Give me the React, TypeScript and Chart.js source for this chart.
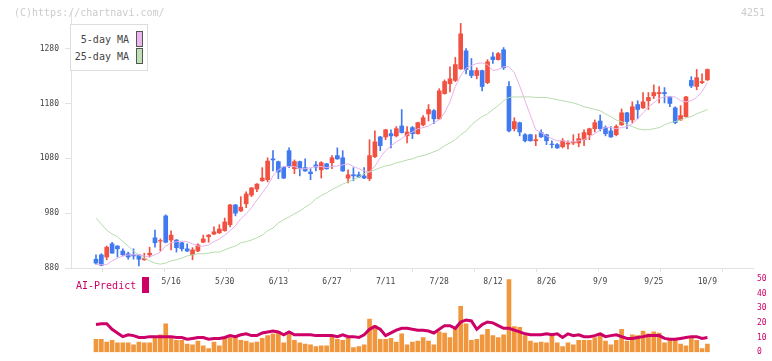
import React, { useEffect, useRef } from 'react';
import { Chart, registerables } from 'chart.js';

Chart.register(...registerables);

// ---- data ----
const OPEN = [
  896, 904, 900, 924, 920, 911, 906, 904, 904, 895, 904, 935, 929, 975, 931, 931, 926, 915, 904, 911,
  927, 937, 942, 944, 948, 959, 995, 984, 997, 1013, 1024, 1039, 1041, 1079, 1074, 1064, 1094, 1061, 1074, 1063,
  1055, 1068, 1059, 1070, 1072, 1085, 1081, 1044, 1050, 1050, 1048, 1043, 1083, 1119, 1119, 1125, 1121, 1139, 1121, 1136,
  1125, 1141, 1161, 1167, 1152, 1198, 1216, 1222, 1243, 1276, 1240, 1231, 1240, 1218, 1265, 1260, 1278, 1211, 1134, 1145,
  1123, 1123, 1112, 1127, 1123, 1106, 1105, 1101, 1106, 1108, 1108, 1114, 1123, 1134, 1148, 1136, 1130, 1123, 1141, 1163,
  1150, 1178, 1172, 1185, 1194, 1198, 1200, 1192, 1172, 1150, 1156, 1222, 1211, 1218, 1223,
];
const HIGH = [
  904, 906, 920, 927, 921, 915, 909, 915, 905, 907, 918, 949, 933, 977, 948, 932, 927, 924, 917, 924,
  940, 941, 955, 959, 971, 996, 996, 1010, 1019, 1027, 1034, 1063, 1081, 1094, 1075, 1065, 1099, 1077, 1075, 1079,
  1061, 1074, 1074, 1071, 1085, 1099, 1094, 1059, 1063, 1055, 1063, 1114, 1130, 1120, 1133, 1132, 1138, 1169, 1138, 1138,
  1146, 1158, 1178, 1169, 1207, 1223, 1247, 1264, 1326, 1280, 1262, 1245, 1241, 1260, 1273, 1273, 1282, 1220, 1154, 1146,
  1125, 1124, 1123, 1132, 1124, 1112, 1107, 1116, 1112, 1123, 1125, 1132, 1135, 1150, 1159, 1139, 1138, 1141, 1170, 1164,
  1183, 1185, 1200, 1200, 1214, 1211, 1209, 1193, 1174, 1176, 1193, 1229, 1242, 1234, 1243,
];
const LOW = [
  887, 884, 895, 907, 900, 902, 896, 896, 884, 894, 900, 918, 911, 926, 913, 909, 911, 910, 895, 910,
  926, 927, 941, 943, 947, 955, 975, 983, 990, 1010, 1019, 1038, 1037, 1057, 1043, 1043, 1063, 1052, 1048, 1056,
  1041, 1057, 1044, 1060, 1061, 1078, 1056, 1035, 1039, 1045, 1043, 1039, 1081, 1094, 1114, 1099, 1119, 1126, 1108, 1116,
  1124, 1139, 1148, 1143, 1151, 1197, 1201, 1220, 1242, 1234, 1227, 1225, 1203, 1216, 1253, 1259, 1242, 1128, 1130, 1121,
  1110, 1111, 1103, 1118, 1105, 1099, 1098, 1099, 1097, 1105, 1101, 1103, 1114, 1128, 1130, 1121, 1118, 1121, 1140, 1134,
  1145, 1152, 1171, 1169, 1189, 1181, 1181, 1174, 1143, 1149, 1155, 1209, 1205, 1216, 1222,
];
const CLOSE = [
  889, 885, 918, 907, 915, 904, 900, 902, 896, 897, 907, 926, 930, 927, 940, 917, 915, 911, 913, 922,
  933, 940, 946, 951, 964, 995, 980, 991, 1015, 1026, 1033, 1044, 1075, 1077, 1055, 1044, 1066, 1074, 1061, 1057,
  1052, 1064, 1072, 1061, 1081, 1079, 1057, 1050, 1048, 1046, 1044, 1085, 1110, 1103, 1132, 1121, 1134, 1127, 1128, 1125,
  1145, 1154, 1169, 1152, 1203, 1220, 1225, 1251, 1307, 1242, 1231, 1240, 1211, 1256, 1260, 1271, 1245, 1130, 1147, 1128,
  1112, 1112, 1114, 1119, 1112, 1105, 1099, 1112, 1108, 1110, 1116, 1127, 1134, 1145, 1134, 1125, 1119, 1138, 1163, 1147,
  1174, 1169, 1183, 1191, 1200, 1200, 1198, 1180, 1145, 1158, 1192, 1212, 1227, 1220, 1242,
];
const MA5 = [
  887, 886, 886, 893, 898, 902, 904, 904, 904, 902, 900, 904, 909, 920, 926, 928, 929, 928, 924, 920,
  920, 922, 928, 933, 940, 948, 957, 970, 979, 990, 1004, 1017, 1030, 1048, 1059, 1065, 1065, 1065, 1061, 1061,
  1063, 1065, 1065, 1063, 1065, 1066, 1068, 1070, 1065, 1061, 1057, 1055, 1066, 1081, 1094, 1103, 1110, 1116, 1123, 1128,
  1134, 1136, 1139, 1145, 1150, 1163, 1183, 1211, 1231, 1244, 1249, 1253, 1254, 1251, 1240, 1242, 1247, 1247, 1236, 1212,
  1185, 1158, 1132, 1127, 1121, 1116, 1112, 1112, 1110, 1110, 1112, 1114, 1119, 1125, 1132, 1136, 1136, 1134, 1136, 1138,
  1143, 1152, 1163, 1174, 1181, 1189, 1192, 1192, 1192, 1185, 1183, 1185, 1191, 1202, 1218,
];
const MA25 = [
  971, 960, 949, 942, 937, 928, 920, 911, 904, 898, 893, 889, 887, 889, 893, 895, 898, 902, 904, 906,
  906, 907, 909, 909, 913, 917, 920, 926, 928, 931, 935, 940, 948, 953, 962, 968, 973, 979, 984, 991,
  997, 1006, 1012, 1017, 1023, 1028, 1033, 1037, 1041, 1046, 1052, 1055, 1059, 1063, 1066, 1068, 1072, 1074, 1077, 1079,
  1083, 1085, 1088, 1092, 1096, 1103, 1108, 1114, 1123, 1130, 1141, 1149, 1156, 1161, 1169, 1176, 1185, 1191, 1192, 1192,
  1192, 1192, 1191, 1191, 1191, 1189, 1187, 1185, 1183, 1181, 1178, 1174, 1172, 1169, 1167, 1161, 1156, 1150, 1147, 1141,
  1138, 1134, 1132, 1132, 1134, 1136, 1141, 1145, 1147, 1150, 1154, 1156, 1161, 1165, 1169,
];
const VOLUME = [
  8.8, 8.7, 6.9, 8.1, 6.3, 6.3, 6.3, 5, 6.9, 6.3, 6.3, 10, 11.9, 19.4, 10, 8.1, 8.1, 5.6, 5, 7.5,
  4.4, 2.5, 6.9, 4.4, 9.4, 10, 10.6, 8.1, 7.5, 6.3, 6.9, 9.4, 11.3, 12.5, 13.8, 6.3, 12.5, 8.1, 6.3, 5.6,
  5, 3.8, 4.4, 4.4, 10.6, 8.7, 8.1, 9.4, 3.1, 3.8, 5, 22.5, 18.1, 8.7, 8.7, 9.4, 6.9, 12.5, 5, 6.9,
  7.5, 10, 7.5, 5, 13.8, 13.1, 10, 16.9, 31.3, 19.4, 8.1, 8.7, 11.9, 15.6, 11.3, 10, 11.9, 49.4, 17.5, 16.9,
  11.3, 7.5, 6.3, 6.9, 6.3, 12.5, 6.3, 3.8, 6.3, 5, 8.1, 8.1, 8.1, 10, 13.1, 7.5, 5, 8.1, 15.6, 7.5,
  11.9, 11.3, 14.4, 12.5, 13.8, 13.1, 6.3, 8.1, 8.1, 5.6, 4.4, 10, 8.1, 2.5, 5.6,
];
const AI_PREDICT = [
  18.8, 19.4, 19.4, 15.6, 13.1, 10.6, 11.9, 11.3, 10, 10, 10.6, 10.6, 10.6, 10.6, 10.6, 10, 10, 8.8, 9.4, 10,
  10, 8.8, 9.4, 9.4, 10, 11.3, 10.6, 11.9, 12.5, 11.3, 11.3, 13.1, 13.8, 14.4, 13.8, 11.9, 13.8, 11.9, 11.9, 11.9,
  11.9, 11.3, 11.3, 11.3, 11.3, 10.6, 11.9, 10.6, 10.6, 10, 11.9, 15.6, 17.5, 15.6, 11.3, 13.1, 15, 16.3, 16.3, 15.6,
  15, 15, 14.4, 13.1, 15.6, 18.1, 18.1, 16.3, 20.6, 21.9, 21.3, 15.6, 18.8, 20.6, 20, 18.1, 16.3, 16.3, 15, 13.8,
  12.5, 11.9, 11.9, 11.9, 12.5, 11.9, 12.5, 10, 12.5, 11.3, 11.9, 10.6, 10.6, 11.3, 12.5, 10.6, 11.3, 11.9, 10.6, 9.4,
  9.4, 10, 10.6, 11.3, 11.3, 11.3, 9.4, 8.8, 8.8, 9.4, 10, 10.6, 10.6, 9.4, 10,
];
const TICK_POS = [14, 24, 34, 44, 54, 64, 74, 84, 94, 104, 114];
const TICK_LABELS = ['5/16', '5/30', '6/13', '6/27', '7/11', '7/28', '8/12', '8/26', '9/9', '9/25', '10/9'];
const PRICE_TICKS = [880, 980, 1080, 1180, 1280];
const VOLUME_TICKS = [0, 10, 20, 30, 40, 50];
const GRID_MARKS = [0, 1, 2, 3, 4, 5, 6, 7, 8, 9, 10, 11];

// ---- styles ----
const MONO = "'DejaVu Sans Mono', monospace";
const RED = '#f25040';
const BLUE = '#4079f0';
const AXIS = '#e2e2e2';
const CRIMSON = '#cc0066';
const X_MIN = -4.66;
const X_MAX = 122.5;

export default function App() {
  const priceRef = useRef<HTMLCanvasElement>(null);
  const volRef = useRef<HTMLCanvasElement>(null);

  useEffect(() => {
    const colors = OPEN.map((o, i) => (CLOSE[i] >= o ? RED : BLUE));
    const price = new Chart(priceRef.current!, {
      type: 'bar',
      data: {
        datasets: [
          {
            type: 'line',
            data: MA5.map((v, i) => ({ x: i, y: v })),
            borderColor: '#e8b2e8',
            borderWidth: 1,
            pointRadius: 0,
            xAxisID: 'x',
            yAxisID: 'y',
            order: 0,
          } as any,
          {
            type: 'line',
            data: MA25.map((v, i) => ({ x: i, y: v })),
            borderColor: '#b6dcab',
            borderWidth: 1,
            pointRadius: 0,
            xAxisID: 'x',
            yAxisID: 'y',
            order: 0,
          } as any,
          {
            type: 'bar',
            data: HIGH.map((h, i) => ({ x: i, y: [LOW[i], h] })),
            backgroundColor: colors,
            barThickness: 1,
            grouped: false,
            xAxisID: 'x',
            yAxisID: 'y',
            order: 2,
          } as any,
          {
            type: 'bar',
            data: OPEN.map((o, i) => ({ x: i, y: [o, CLOSE[i]] })),
            backgroundColor: colors,
            barThickness: 4,
            grouped: false,
            xAxisID: 'x',
            yAxisID: 'y',
            order: 1,
          } as any,
        ],
      },
      options: {
        responsive: false,
        animation: false,
        events: [],
        layout: { padding: { left: 0, right: 19, top: 13, bottom: 0 } },
        plugins: { legend: { display: false }, tooltip: { enabled: false } },
        scales: {
          x: {
            type: 'linear',
            axis: 'x',
            position: 'bottom',
            min: X_MIN,
            max: X_MAX,
            offset: false,
            weight: 1,
            afterBuildTicks: (s: any) => {
              s.ticks = TICK_POS.map((v) => ({ value: v }));
            },
            afterFit: (s: any) => {
              s.height = 28;
            },
            ticks: {
              autoSkip: false,
              maxRotation: 0,
              padding: 5,
              color: '#444',
              font: { family: MONO, size: 8 },
              callback: (v: any) => {
                const k = TICK_POS.indexOf(Number(v));
                return k >= 0 ? TICK_LABELS[k] : '';
              },
            },
            grid: { display: false, drawTicks: false },
            border: { display: false },
          },
          xt: {
            type: 'linear',
            axis: 'x',
            position: 'bottom',
            min: 0,
            max: 11,
            offset: false,
            weight: 0,
            afterBuildTicks: (s: any) => {
              s.ticks = GRID_MARKS.map((v) => ({ value: v }));
            },
            afterFit: (s: any) => {
              s.height = 4;
            },
            ticks: { display: false },
            grid: { drawOnChartArea: false, drawTicks: true, tickLength: 4, color: AXIS },
            border: { display: true, color: AXIS },
          },
          y: {
            type: 'linear',
            position: 'left',
            min: 880,
            max: 1345,
            afterBuildTicks: (s: any) => {
              s.ticks = PRICE_TICKS.map((v) => ({ value: v }));
            },
            afterFit: (s: any) => {
              s.width = 71;
            },
            ticks: {
              padding: 6,
              color: '#444',
              font: { family: MONO, size: 8 },
              callback: (v: any) => String(v),
            },
            grid: { drawOnChartArea: false, tickLength: 6, color: AXIS },
            border: { color: AXIS },
          },
        },
      } as any,
    });

    const vol = new Chart(volRef.current!, {
      type: 'bar',
      data: {
        datasets: [
          {
            type: 'line',
            data: AI_PREDICT.map((v, i) => ({ x: i, y: v })),
            borderColor: CRIMSON,
            borderWidth: 3,
            pointRadius: 0,
            order: 0,
          } as any,
          {
            type: 'bar',
            data: VOLUME.map((v, i) => ({ x: i, y: v })),
            backgroundColor: '#f0963c',
            barThickness: 4,
            order: 1,
          } as any,
        ],
      },
      options: {
        responsive: false,
        animation: false,
        events: [],
        layout: { padding: { left: 71, right: 0, top: 8, bottom: 3 } },
        plugins: { legend: { display: false }, tooltip: { enabled: false } },
        scales: {
          x: { type: 'linear', min: X_MIN, max: X_MAX, offset: false, display: false },
          y: {
            type: 'linear',
            position: 'right',
            min: 0,
            max: 50,
            afterBuildTicks: (s: any) => {
              s.ticks = VOLUME_TICKS.map((v) => ({ value: v }));
            },
            afterFit: (s: any) => {
              s.width = 19;
            },
            ticks: { padding: 4, color: CRIMSON, font: { family: MONO, size: 8 }, callback: (v: any) => String(v) },
            grid: { display: false, drawTicks: false },
            border: { display: false },
          },
        },
      } as any,
    });

    return () => {
      price.destroy();
      vol.destroy();
    };
  }, []);

  const text = { position: 'absolute' as const, fontFamily: MONO, fontSize: 10, lineHeight: '12px', whiteSpace: 'nowrap' as const };

  return (
    <div style={{ position: 'absolute', left: 0, top: 0, width: 772, height: 361, background: '#fff', overflow: 'hidden' }}>
      <canvas ref={priceRef} width={772} height={300} style={{ position: 'absolute', left: 0, top: 0 }} />
      <canvas ref={volRef} width={772} height={91} style={{ position: 'absolute', left: 0, top: 270 }} />
      <div style={{ ...text, left: 14, top: 7, color: '#cccccc' }}>(C)https://chartnavi.com/</div>
      <div style={{ ...text, left: 741, top: 7, color: '#cccccc' }}>4251</div>
      <div
        style={{
          position: 'absolute',
          left: 70,
          top: 24,
          width: 78,
          height: 47,
          boxSizing: 'border-box',
          border: '1px solid #dddddd',
          background: '#fff',
        }}
      >
        <div style={{ ...text, right: 18, top: 9, color: '#444' }}>5-day MA</div>
        <div style={{ ...text, right: 18, top: 26, color: '#444' }}>25-day MA</div>
        <div style={{ position: 'absolute', left: 65, top: 6, width: 7, height: 16, boxSizing: 'border-box', border: '1px solid #555', background: '#ebb6eb' }} />
        <div style={{ position: 'absolute', left: 65, top: 23, width: 7, height: 16, boxSizing: 'border-box', border: '1px solid #555', background: '#bfe0b5' }} />
      </div>
      <div style={{ ...text, left: 76, top: 280, color: CRIMSON }}>AI-Predict</div>
      <div style={{ position: 'absolute', left: 142, top: 277, width: 7, height: 16, background: CRIMSON }} />
    </div>
  );
}
